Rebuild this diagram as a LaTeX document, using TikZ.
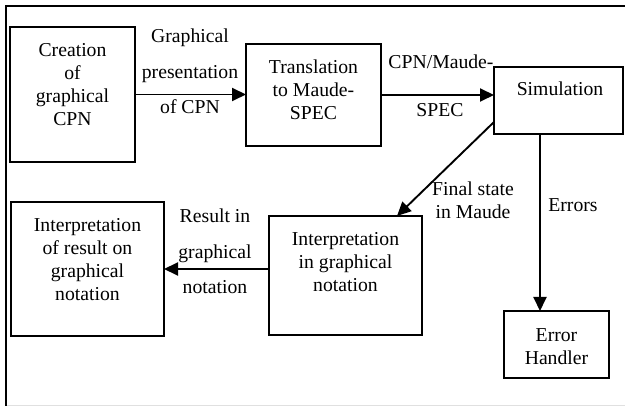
\documentclass[tikz,border=0pt]{standalone}
\usepackage{fontspec}
\setmainfont{Liberation Serif}
\usetikzlibrary{arrows.meta,fit,calc}
\begin{document}
\begin{tikzpicture}[x=1pt,y=-1pt,
  stagebox/.style={draw,line width=1.9pt,inner sep=0pt,outer sep=0pt,rectangle},
  txt/.style={anchor=base,inner sep=0pt,font=\fontsize{19.7}{23}\selectfont},
  lbl/.style={anchor=base,inner sep=0pt,font=\fontsize{19.7}{35.5}\selectfont},
  flow/.style={line width=1.9pt,-{Triangle[length=14pt,width=13pt]}}]
  \useasboundingbox (0,0) rectangle (625,406);

  % outer frame
  \draw[line width=2pt] (6,406) -- (6,6) -- (625,6);
  \draw[black!12,line width=0.6pt] (7,405) -- (625,405);

  % stage boxes
  \node[stagebox,fit={(10,27) (135,162)}] (b1) {};
  \node[stagebox,fit={(246,44) (381,146)}] (b2) {};
  \node[stagebox,fit={(494,67) (623,134)}] (b3) {};
  \node[stagebox,fit={(269,216) (422,335)}] (b4) {};
  \node[stagebox,fit={(11,202) (164,336)}] (b5) {};
  \node[stagebox,fit={(504,311) (609,378)}] (b6) {};

  % box texts, first baseline 30pt below the top edge
  \node[txt] (t1) at ($(b1.north)+(0,30)$) {\parbox[t]{120pt}{\centering Creation\\of\\graphical\\CPN}};
  \node[txt] (t2) at ($(b2.north)+(0,30)$) {\parbox[t]{130pt}{\centering Translation\\to Maude-\\SPEC}};
  \node[txt] (t3) at ($(b3.north)+(1.5,29)$) {\parbox[t]{125pt}{\centering Simulation}};
  \node[txt] (t4) at ($(b4.north)+(0,30)$) {\parbox[t]{150pt}{\centering Interpretation\\in graphical\\notation}};
  \node[txt] (t5) at ($(b5.north)+(0,30)$) {\parbox[t]{150pt}{\centering Interpretation\\of result on\\graphical\\notation}};
  \node[txt] (t6) at ($(b6.north)+(0,30.5)$) {\parbox[t]{100pt}{\centering Error\\Handler}};

  % connectors
  \coordinate (ecol) at (540,0);
  \coordinate (dstart) at (494,122);
  \coordinate (dend) at (397,216);
  \draw[flow] (b1.east) -- (b1.east -| b2.west);
  \draw[flow] (b2.east) -- (b2.east -| b3.west);
  \draw[flow] (dstart) -- (dend);
  \draw[flow] (b3.south -| ecol) -- (b6.north -| ecol);
  \draw[flow] (b4.west |- b5.east) -- (b5.east);

  % connector labels
  \node[lbl] (l1) at (190,43) {\parbox[t]{130pt}{\centering Graphical\\presentation\\of CPN}};
  \node[txt] (l2a) at (441,69) {CPN/Maude-};
  \node[txt] (l2b) at (440,117) {SPEC};
  \node[txt] (l3) at (473,196) {\parbox[t]{120pt}{\centering Final state\\in Maude}};
  \node[txt] (l4) at (573,212) {Errors};
  \node[lbl] (l5) at (215,223) {\parbox[t]{100pt}{\centering Result in\\graphical\\notation}};
\end{tikzpicture}
\end{document}
